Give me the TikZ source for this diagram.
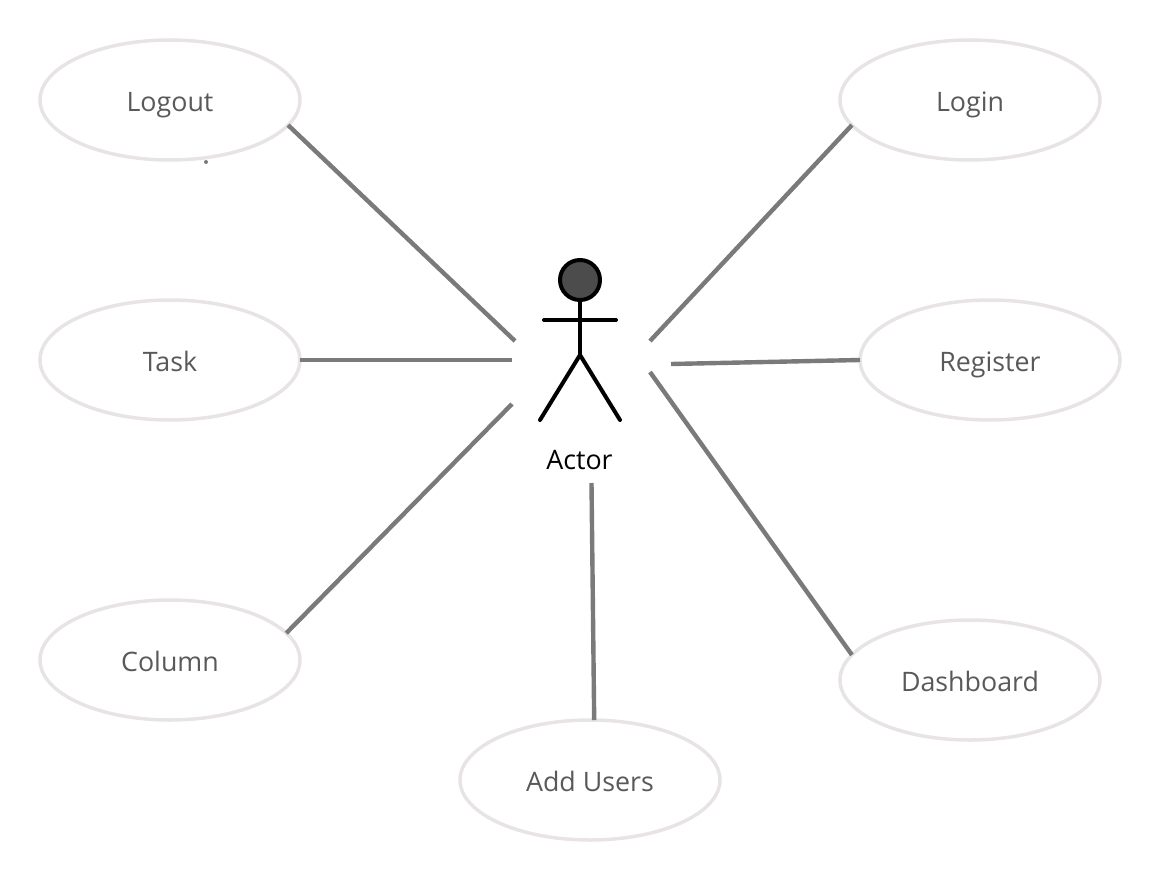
\documentclass[tikz,border=0pt]{standalone}
\usepackage{fontspec}
\setmainfont{Open Sans}
\usetikzlibrary{shapes.geometric}
\definecolor{ovalgray}{HTML}{E8E4E6}
\definecolor{linegray}{HTML}{7A7A7A}
\definecolor{textgray}{HTML}{595959}
\tikzset{
  usecase/.style={draw=ovalgray,line width=3.5pt,ellipse,minimum width=260pt,minimum height=120pt,inner sep=0pt,outer sep=0pt,text=textgray,text height=23pt,text depth=0pt,font=\fontsize{26.8}{30}\selectfont},
  link/.style={draw=linegray,line width=4.4pt},
  stick/.style={draw=black,line width=4pt,line cap=round}
}
\begin{document}
\begin{tikzpicture}[x=1pt,y=-1pt]
\useasboundingbox (0,0) rectangle (1160,880);
\node[usecase] (logout) at (170,100) {Logout};
\node[usecase] (task) at (170,360) {Task};
\node[usecase] (column) at (170,660) {Column};
\node[usecase] (login) at (970,100) {Login};
\node[usecase] (register) at (990,360) {Register};
\node[usecase] (dashboard) at (970,680) {Dashboard};
\node[usecase] (addusers) at (590,780) {Add Users};
\node[inner sep=0pt,font=\fontsize{26.8}{30}\selectfont] (actor) at (579.5,460) {Actor};
\coordinate (hip) at (580,355);
\coordinate (armL) at (544,320);
\coordinate (armR) at (616,320);
\coordinate (footL) at (540,420);
\coordinate (footR) at (620,420);
\node[circle,draw=black,fill=black!70,line width=4pt,minimum size=40pt,inner sep=0pt,outer sep=0pt] (head) at (580,280) {};
\draw[stick] (head.south)--(hip);
\draw[stick] (armL)--(armR);
\draw[stick] (footL)--(hip)--(footR);
\coordinate (freeA) at (515,341);
\coordinate (freeB) at (512,360);
\coordinate (freeC) at (512,404);
\coordinate (freeD) at (650,341);
\coordinate (freeE) at (671,364);
\coordinate (freeF) at (650,372);
\coordinate (freeG) at (591.5,483);
\draw[link] (logout.-12)--(freeA);
\draw[link] (task.east)--(freeB);
\draw[link] (column.13)--(freeC);
\draw[link] (login.192)--(freeD);
\draw[link] (register.west)--(freeE);
\draw[link] (dashboard.168)--(freeF);
\draw[link] (addusers.86)--(freeG);
\fill[linegray] (206,162) circle (2pt);
\end{tikzpicture}
\end{document}
